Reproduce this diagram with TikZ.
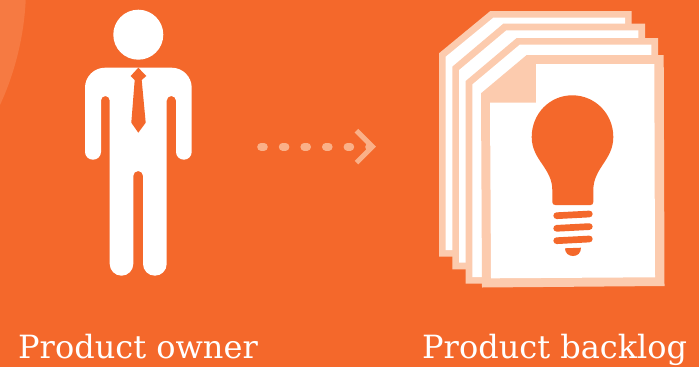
\documentclass[tikz,border=0pt]{standalone}
\usepackage{fontspec}
\setmainfont{DejaVu Serif}
\usetikzlibrary{arrows.meta}
\definecolor{bgorange}{RGB}{244,104,43}
\definecolor{cornerorange}{RGB}{246,122,66}
\definecolor{pagepale}{RGB}{252,203,174}
\definecolor{arrowpale}{RGB}{250,176,136}
\tikzset{
  caption/.style={anchor=base west, text=white, inner sep=0pt, font=\fontsize{32pt}{36pt}\selectfont},
  headdot/.style={circle, fill=white, minimum size=50pt, inner sep=0pt},
  pageedge/.style={fill=pagepale},
  pagesheet/.style={fill=white},
  bulbpart/.style={fill=bgorange},
  bulbthread/.style={draw=bgorange, line width=6.7pt, line cap=round},
  dotarrow/.style={draw=arrowpale, line width=7.6pt, line cap=round, dash pattern=on 3pt off 18.6pt, -{Straight Barb[length=16pt, width=32pt, line width=5pt]}},
}
\begin{document}
\begin{tikzpicture}[x=1pt, y=-1pt]

  % --- Background ---
  \fill[bgorange] (0,0) rectangle (699,367);
  \fill[cornerorange] (0,0) -- (25.7,0) .. controls (24,38) and (14,75) .. (0,105) -- cycle;

  % --- Product owner ---
  \node[headdot] (head) at (138.3,34.7) {};
  \fill[white] (85,120) [rounded corners=20pt] -- (85,67.7) -- (191.7,67.7) [rounded corners=7.8pt] -- (191.7,159.7) -- (176,159.7) [rounded corners=4.6pt] -- (176,96) -- (166.7,96) [rounded corners=11.8pt] -- (166.7,275.7) -- (143,275.7) [rounded corners=4.8pt] -- (143,171) -- (133.3,171) [rounded corners=11.8pt] -- (133.3,275.7) -- (109.7,275.7) [rounded corners=4.4pt] -- (109.7,96) -- (101,96) [rounded corners=7.9pt] -- (101,159.7) -- (85,159.7) -- cycle;
  \fill[bgorange] (138.3,67.7) -- (146.3,76) -- (141.7,80) -- (145.7,122.7) -- (138.3,132.7) -- (131.3,122.7) -- (134.7,80) -- (130.7,76) -- cycle;

  % --- Dotted arrow ---
  \coordinate (arrowstart) at (261,146.7);
  \coordinate (arrowend) at (376,146.7);
  \draw[dotarrow] (arrowstart) -- (arrowend);

  % --- Back pages ---
  \foreach \l/\t/\r/\b/\cx/\cy in {439/11/631.7/256.7/490.3/53.3, 452.3/23.7/645/269.3/503.3/66.7, 465.7/38/658/283.7/516.7/81} {
    \fill[pageedge] (\l,\cy) -- (\cx,\t) -- (\r,\t) -- (\r,\b) -- (\l,\b) -- cycle;
    \fill[pagesheet] ({\l+6.7},{\cy+3.4}) -- ({\cx+3},{\t+6.7}) -- ({\r-6.7},{\t+6.7}) -- ({\r-6.7},{\b-6.7}) -- ({\l+6.7},{\b-6.7}) -- cycle;
  }

  % --- Front page ---
  \fill[pageedge] (481,93.3) -- (526.7,55) -- (663.7,55) -- (664.5,286) -- (482,287.5) -- cycle;
  \fill[pagesheet] (490,102.7) -- (536,102.7) -- (536,64) -- (654.3,64) -- (655,277.3) -- (491,278.3) -- cycle;

  % --- Bulb ---
  \fill[bulbpart] (572.3,95.3) .. controls (549.7,95.3) and (531.7,113.7) .. (531.7,137) .. controls (531.7,160) and (552.3,168) .. (552.3,190) -- (552.3,202) .. controls (552.3,204) and (553.5,205) .. (555.5,205) -- (590.5,205) .. controls (592.3,205) and (593.3,204) .. (593.3,202) -- (593.3,190) .. controls (593.3,168) and (613.3,160) .. (613.3,137) .. controls (613.3,113.7) and (595,95.3) .. (572.3,95.3) -- cycle;
  \foreach \y in {215.7,228.3,240.7}
    \draw[bulbthread] (556.7,\y) -- (589.3,{\y-1.7});
  \fill[bulbpart] (565,248.3) -- (581,247.7) .. controls (581,253) and (577.5,256) .. (573,256) .. controls (568.5,256) and (565,253) .. (565,248.3) -- cycle;

  % --- Captions ---
  \node[caption] (ownerlabel) at (18,358) {Product owner};
  \node[caption] (backloglabel) at (422,358) {Product backlog};

\end{tikzpicture}
\end{document}
